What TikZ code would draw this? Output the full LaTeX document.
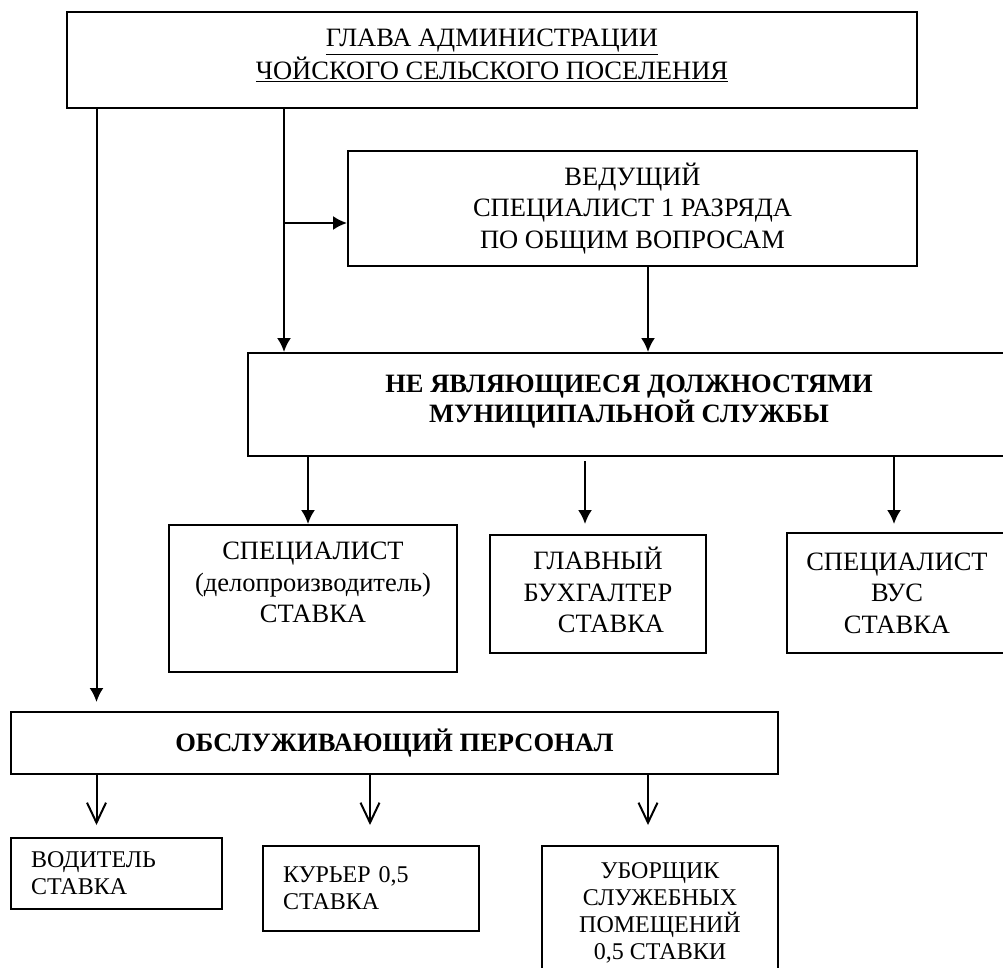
\documentclass[tikz,border=0pt]{standalone}
\usepackage{fontspec}
\setmainfont{Liberation Serif}
\usetikzlibrary{positioning, arrows.meta}
\newcommand{\bigtxt}{\fontsize{26.5}{31.5}\selectfont}
\newcommand{\smalltxt}{\fontsize{24}{27}\selectfont}

\begin{document}
\begin{tikzpicture}[x=1pt,y=-1pt,
    box/.style={draw, line width=2pt, inner sep=0pt, align=center, font=\bigtxt},
    lbox/.style={draw, line width=2pt, inner xsep=20pt, inner ysep=0pt, align=left, font=\smalltxt},
    farrow/.style={line width=2pt, -{Latex[length=14pt,width=14pt]}},
    oarrow/.style={line width=2pt, -{Straight Barb[length=20pt,width=19pt]}}]
\useasboundingbox (0,0) rectangle (1003,968);
% boxes
\node[box, minimum width=850pt, minimum height=96pt, font=\fontsize{26.5}{33}\selectfont,
    text depth=11pt] (glava) at (492,60)
    {\underline{ГЛАВА АДМИНИСТРАЦИИ}\\\underline{ЧОЙСКОГО СЕЛЬСКОГО ПОСЕЛЕНИЯ}};
\node[box, minimum width=569pt, minimum height=115pt] (ved) at (632.5,208.5)
    {ВЕДУЩИЙ\\СПЕЦИАЛИСТ 1 РАЗРЯДА\\ПО ОБЩИМ ВОПРОСАМ};
\node[box, minimum width=762pt, minimum height=103pt, font=\fontsize{26.5}{30}\selectfont\bfseries,
    text depth=12pt] (ne) at (629,404.5)
    {НЕ ЯВЛЯЮЩИЕСЯ ДОЛЖНОСТЯМИ\\МУНИЦИПАЛЬНОЙ СЛУЖБЫ};
\node[box, minimum width=288pt, minimum height=147pt, text depth=32pt] (spec) at (313,598.5)
    {СПЕЦИАЛИСТ\\(делопроизводитель)\\СТАВКА};
\node[box, minimum width=216pt, minimum height=118pt, text depth=8pt] (buh) at (598,594)
    {ГЛАВНЫЙ\\БУХГАЛТЕР\\\hspace*{26pt}СТАВКА};
\node[box, minimum width=220pt, minimum height=120pt] (vus) at (897,593)
    {СПЕЦИАЛИСТ\\ВУС\\СТАВКА};
\node[box, minimum width=767pt, minimum height=62pt, font=\bigtxt\bfseries] (obsl) at (394.5,743)
    {ОБСЛУЖИВАЮЩИЙ ПЕРСОНАЛ};
\node[lbox, text width=171pt, minimum height=71pt] (vod) at (116.5,873.5)
    {ВОДИТЕЛЬ\\СТАВКА};
\node[lbox, text width=176pt, minimum height=85pt] (kur) at (371,888.5)
    {КУРЬЕР 0,5\\СТАВКА};
\node[box, minimum width=236pt, minimum height=133pt, font=\smalltxt] (ubor) at (660,912.5)
    {УБОРЩИК\\СЛУЖЕБНЫХ\\ПОМЕЩЕНИЙ\\0,5 СТАВКИ};
% line positions
\coordinate (l1) at (96.5,0);
\coordinate (l2) at (284,0);
\coordinate (l3) at (648,0);
\coordinate (b1) at (284,223);
\coordinate (t1) at (308,524);
\coordinate (t2) at (585,524);
\coordinate (t3) at (894,524);
\coordinate (u1) at (96.5,825);
\coordinate (u2) at (370,825);
\coordinate (u3) at (648,825);
% connectors
\draw[farrow] (glava.south -| l1) -- ([yshift=9pt]obsl.north -| l1);
\draw[farrow] (glava.south -| l2) -- (ne.north -| l2);
\draw[farrow] (b1) -- (b1 -| ved.west);
\draw[farrow] (ved.south -| l3) -- (ne.north -| l3);
\draw[farrow] (ne.south -| t1) -- (t1);
\draw[farrow] ([yshift=-4pt]ne.south -| t2) -- (t2);
\draw[farrow] (ne.south -| t3) -- (t3);
\foreach \u in {u1,u2,u3}
    \draw[oarrow] (obsl.south -| \u) -- (\u);
\end{tikzpicture}
\end{document}
